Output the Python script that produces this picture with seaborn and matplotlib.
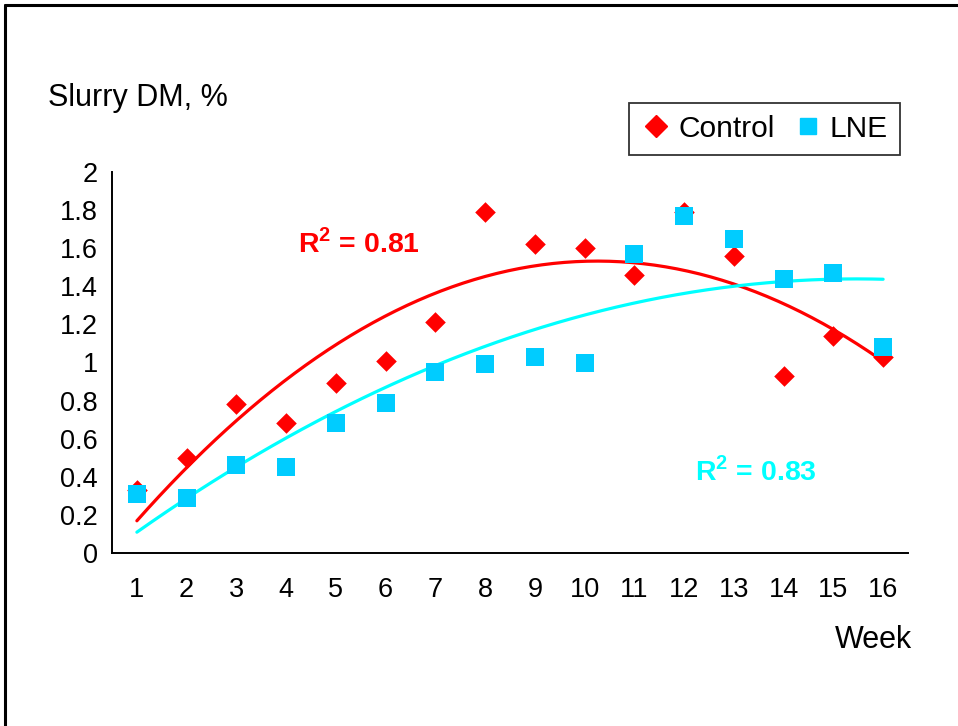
import numpy as np
import pandas as pd
import matplotlib
matplotlib.use("Agg")
import matplotlib.pyplot as plt
from matplotlib.lines import Line2D
import seaborn as sns

weeks = list(range(1, 17))
control = [0.33, 0.50, 0.78, 0.68, 0.89, 1.01, 1.21, 1.79, 1.62, 1.60, 1.46, 1.79, 1.56, 0.93, 1.14, 1.03]
lne = [0.31, 0.29, 0.46, 0.45, 0.68, 0.79, 0.95, 0.99, 1.03, 1.00, 1.57, 1.77, 1.65, 1.44, 1.47, 1.08]
series_names = ["Control", "LNE"]
r2_labels = ["0.81", "0.83"]
y_ticks = [0, 0.2, 0.4, 0.6, 0.8, 1, 1.2, 1.4, 1.6, 1.8, 2]
y_tick_labels = ["0", "0.2", "0.4", "0.6", "0.8", "1", "1.2", "1.4", "1.6", "1.8", "2"]

sns.set_style("white")
plt.rcParams['font.family'] = ['Liberation Sans', 'DejaVu Sans']
plt.rcParams['mathtext.fontset'] = 'custom'
plt.rcParams['mathtext.rm'] = 'Liberation Sans'
plt.rcParams['mathtext.bf'] = 'Liberation Sans:bold'
plt.rcParams['text.color'] = 'black'
plt.rcParams['xtick.color'] = 'black'
plt.rcParams['ytick.color'] = 'black'
plt.rcParams['xtick.labelcolor'] = 'black'
plt.rcParams['ytick.labelcolor'] = 'black'

df = pd.DataFrame({
    "Week": weeks * 2,
    "DM": control + lne,
    "Series": [series_names[0]] * 16 + [series_names[1]] * 16,
})

fig = plt.figure(figsize=(9.58, 7.26), dpi=100)
ax = fig.add_axes([112/958, 1-553/726, (908-112)/958, (553-172)/726])

red = "#FF0000"
blue = "#00CCFF"
cyan = "#00FFFF"

# trend lines (2nd order polynomial fits of the data)
xs = np.linspace(1, 16, 200)
for vals, col in [(control, red), (lne, cyan)]:
    coef = np.polyfit(weeks, vals, 2)
    sns.lineplot(x=xs, y=np.polyval(coef, xs), ax=ax, color=col, linewidth=2.3, zorder=2)

sns.scatterplot(data=df[df["Series"] == "Control"], x="Week", y="DM", marker="D",
                s=110, color=red, edgecolor=red, linewidth=0, ax=ax, legend=False, zorder=3)
sns.scatterplot(data=df[df["Series"] == "LNE"], x="Week", y="DM", marker="s",
                s=182, color=blue, edgecolor=blue, linewidth=0, ax=ax, legend=False, zorder=4)

ax.set_xlim(0.5, 16.5)
ax.set_ylim(0, 2)
ax.set_yticks(y_ticks)
ax.set_yticklabels(y_tick_labels)
ax.set_xticks(weeks)
ax.set_xticklabels([str(w) for w in weeks])
ax.set_xticks(np.arange(0.5, 17, 1), minor=True)
ax.tick_params(axis="x", which="major", length=0, pad=17, labelsize=19.5, labelcolor="black")
ax.tick_params(axis="x", which="minor", length=6, width=1.3, direction="out", color="black")
ax.tick_params(axis="y", which="major", length=6, width=1.3, direction="out", color="black",
               labelsize=19.5, pad=4, labelcolor="black")
for s in ["top", "right"]:
    ax.spines[s].set_visible(False)
for s in ["left", "bottom"]:
    ax.spines[s].set_color("black")
    ax.spines[s].set_linewidth(1.4)
ax.set_xlabel("")
ax.set_ylabel("")

fig.text(48/958, 1-98/726, "Slurry DM, %", fontsize=22, va="center", ha="left", color="black")
fig.text(912/958, 1-640/726, "Week", fontsize=22, va="center", ha="right", color="black")

fig.text(298/958, 1-243/726, r"R$^{\mathbf{2}}$ = " + r2_labels[0],
         color=red, fontsize=20.5, fontweight="bold", va="center", ha="left")
fig.text(695/958, 1-471/726, r"R$^{\mathbf{2}}$ = " + r2_labels[1],
         color=cyan, fontsize=20.5, fontweight="bold", va="center", ha="left")

handles = [Line2D([], [], linestyle="none", marker="D", ms=11, color=red),
           Line2D([], [], linestyle="none", marker="s", ms=12, color=blue)]
leg = fig.legend(handles, series_names, loc="upper right", bbox_to_anchor=(900/958, 1-103/726),
                 ncol=2, fontsize=21.5, frameon=True, fancybox=False, edgecolor="black",
                 handletextpad=0.25, columnspacing=0.6, handlelength=1.0, borderpad=0.4,
                 borderaxespad=0, labelcolor="black")
leg.get_frame().set_linewidth(1.3)

# outer chart border (top and left visible)
fig.add_artist(Line2D([5/958, 5/958], [0, 1-5/726], transform=fig.transFigure, color="black", linewidth=2.2))
fig.add_artist(Line2D([5/958, 1], [1-5/726, 1-5/726], transform=fig.transFigure, color="black", linewidth=2.2))

fig.savefig("out.png", dpi=100)
